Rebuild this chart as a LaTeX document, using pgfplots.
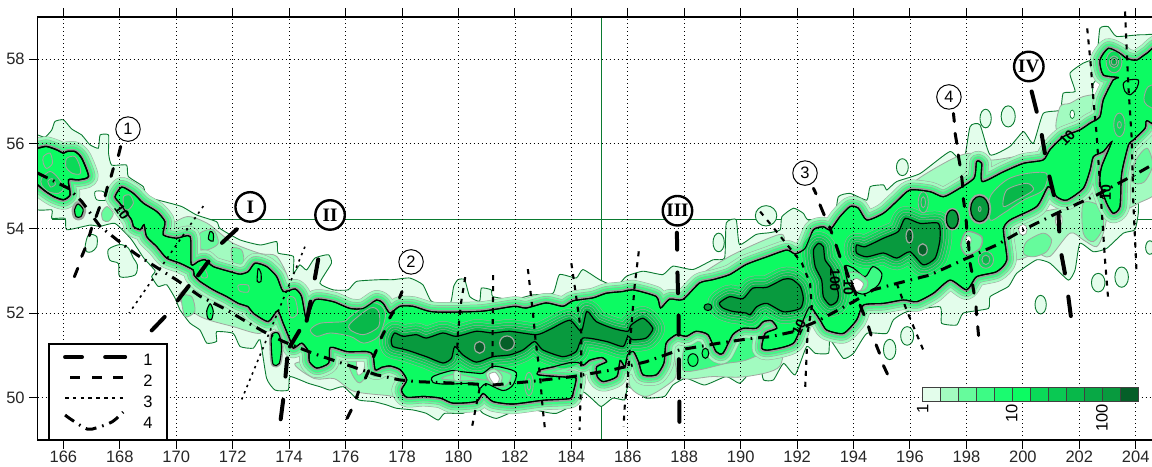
\documentclass[border=0pt]{standalone}
\usepackage{pgfplots}
\pgfplotsset{compat=1.18}
\usepackage{fontspec}
\setmainfont{Liberation Sans}
\newfontfamily\serifb{Liberation Serif}
\definecolor{ca}{HTML}{E3FDEB}
\definecolor{cb}{HTML}{A2FBC0}
\definecolor{cc}{HTML}{66FB9C}
\definecolor{cd}{HTML}{3DFB85}
\definecolor{ce}{HTML}{1AFB70}
\definecolor{cf}{HTML}{0CFB62}
\definecolor{cg}{HTML}{0ADA58}
\definecolor{ch}{HTML}{0AC953}
\definecolor{ci}{HTML}{08B84A}
\definecolor{cj}{HTML}{08A845}
\definecolor{ck}{HTML}{089A3E}
\definecolor{cl}{HTML}{055F28}
\definecolor{gl}{HTML}{A0A8A0}
\definecolor{gd}{HTML}{989E98}
\definecolor{ol}{HTML}{0A7A30}
\definecolor{cx}{HTML}{0BEC5E}
\def\tabOne{%
164.9 56.2\\165.09 56.21\\165.35 56.16\\165.59 56.33\\165.7 56.53\\166.0 56.57\\166.3 56.35\\166.65 56.21\\166.94 55.98\\167.24 55.9\\167.3 56.21\\167.6 56.21\\167.6 55.78\\167.71 55.5\\168.24 55.5\\168.3 55.23\\168.83 54.99\\168.95 54.75\\169.54 54.64\\170.19 54.52\\170.72 54.32\\171.43 54.16\\171.55 54.0\\172.26 53.73\\172.98 53.61\\173.56 53.69\\173.61 53.42\\174.15 53.34\\174.15 52.94\\174.38 53.14\\174.62 53.02\\174.91 53.3\\175.39 53.38\\175.5 53.18\\175.09 52.71\\175.56 52.55\\176.09 52.55\\176.39 52.75\\177.22 52.79\\177.68 52.79\\178.27 52.83\\178.74 52.67\\179.04 52.28\\179.69 52.2\\179.83 52.63\\179.98 52.79\\180.22 52.79\\180.4 52.39\\180.75 52.28\\180.81 52.59\\181.16 52.55\\181.22 52.39\\181.93 52.32\\182.64 52.43\\183.35 52.47\\183.58 52.91\\184.17 52.83\\184.41 53.03\\185.0 52.79\\185.59 52.63\\185.95 52.87\\186.54 52.99\\187.24 52.91\\187.6 53.11\\188.31 53.03\\189.02 53.26\\189.43 53.30\\189.49 54.13\\189.84 54.21\\189.96 53.62\\190.55 53.86\\191.02 53.9\\191.4 53.97\\191.46 54.28\\191.87 54.48\\192.22 54.36\\192.4 54.2\\193.29 54.2\\193.46 54.75\\193.88 54.83\\194.47 54.67\\194.59 54.99\\195.06 55.03\\195.18 54.91\\195.53 55.11\\196.36 55.3\\197.42 55.82\\197.89 55.54\\198.13 56.41\\198.48 56.45\\198.84 55.74\\199.54 55.94\\200.02 56.29\\200.37 56.01\\200.72 56.72\\201.32 56.8\\201.43 57.2\\201.85 57.24\\201.67 57.67\\202.14 57.91\\202.61 58.06\\202.73 58.73\\203.03 58.77\\203.32 58.54\\204.27 58.58\\204.9 58.38\\%
204.9 54.95\\204.15 54.95\\204.09 54.36\\203.97 53.97\\203.56 53.89\\202.97 53.53\\202.5 53.45\\202.02 53.65\\201.85 53.02\\201.61 52.78\\200.96 53.18\\200.49 53.26\\199.78 52.94\\199.49 52.63\\198.84 52.39\\198.78 52.11\\197.89 52.0\\197.66 51.72\\197.12 51.76\\197.06 52.15\\195.88 52.03\\195.41 51.84\\195.18 51.52\\194.47 51.52\\194.0 51.05\\193.64 50.93\\193.17 51.37\\193.11 51.05\\192.64 51.05\\192.34 51.21\\191.93 50.54\\191.52 50.81\\191.16 50.42\\190.81 50.42\\190.69 50.73\\190.34 50.6\\189.96 50.34\\189.49 50.5\\188.72 50.3\\188.07 50.46\\187.6 50.3\\187.3 50.03\\186.65 49.99\\186.42 50.1\\186.0 50.26\\185.89 49.95\\185.47 49.99\\185.06 49.79\\184.77 49.95\\184.41 50.14\\184.17 49.87\\183.47 49.63\\182.99 49.67\\182.4 49.75\\181.93 49.67\\181.34 49.51\\180.87 49.63\\180.63 49.79\\180.16 49.63\\179.51 49.63\\179.28 49.47\\178.86 49.63\\178.39 49.71\\177.8 49.75\\177.45 49.83\\176.98 49.91\\176.45 49.95\\175.92 50.26\\175.45 50.18\\175.09 50.26\\174.68 50.34\\174.03 50.5\\173.97 50.18\\173.5 50.18\\173.2 50.46\\172.97 51.37\\172.73 51.17\\172.26 51.21\\172.02 51.52\\171.43 51.56\\171.43 51.33\\171.08 51.29\\170.84 51.6\\170.49 51.76\\170.13 52.08\\169.96 52.35\\169.66 52.67\\169.36 52.63\\169.13 52.86\\169.25 53.0\\168.85 53.3\\168.4 53.75\\167.83 54.12\\167.3 54.05\\166.94 54.08\\166.12 53.97\\166.06 54.24\\165.59 54.24\\165.59 54.44\\164.9 54.52\\%
}
\def\tabTen{%
167.83 54.75\\168.07 54.98\\168.48 54.83\\168.83 54.60\\169.31 54.40\\169.60 54.16\\169.54 53.85\\170.01 53.77\\170.49 53.81\\170.53 53.15\\170.78 53.22\\171.02 53.26\\171.31 53.10\\171.90 52.98\\172.26 52.92\\172.55 52.98\\172.79 53.18\\173.20 53.10\\173.56 52.86\\173.79 52.51\\174.21 52.57\\174.44 52.39\\174.62 51.84\\174.91 52.31\\175.56 52.27\\176.15 52.11\\176.63 52.11\\177.10 52.31\\177.33 52.23\\177.57 52.0\\177.92 52.16\\178.39 52.16\\178.98 52.04\\179.57 52.02\\180.75 52.04\\181.22 52.08\\181.99 52.16\\182.40 52.12\\183.11 52.24\\183.70 52.16\\184.06 52.29\\184.77 52.36\\185.24 52.47\\185.83 52.51\\186.18 52.55\\187.01 52.39\\187.16 52.12\\187.48 52.33\\187.95 52.32\\188.54 52.71\\189.02 52.79\\189.61 52.91\\190.20 53.15\\190.93 53.33\\191.63 53.49\\191.93 53.40\\192.28 53.53\\192.58 53.97\\192.93 54.04\\193.17 53.97\\193.52 54.28\\193.88 54.52\\194.17 54.48\\194.47 54.20\\195.06 54.36\\195.53 54.64\\196.00 54.91\\196.71 54.87\\197.18 54.75\\197.66 54.91\\198.27 55.19\\198.36 55.58\\198.54 55.54\\198.56 55.11\\199.31 55.34\\200.02 55.54\\200.72 55.62\\200.96 55.86\\201.43 56.17\\202.02 56.33\\202.38 56.49\\202.73 56.64\\202.85 57.04\\203.20 57.51\\203.38 57.57\\202.85 57.63\\202.73 57.98\\203.03 58.26\\203.44 58.14\\203.68 58.02\\204.03 57.98\\204.39 58.14\\204.9 58.30\\%
204.9 56.49\\204.39 56.55\\204.33 56.37\\203.91 56.09\\203.74 55.97\\203.50 55.30\\203.44 54.52\\203.20 54.36\\202.97 54.60\\202.73 55.07\\202.79 55.46\\203.15 56.05\\202.85 55.82\\202.50 55.70\\202.38 55.38\\202.14 54.95\\201.55 54.67\\201.20 54.75\\200.90 54.99\\200.49 54.52\\199.54 54.20\\199.31 53.97\\199.43 53.26\\199.07 52.98\\198.36 52.86\\198.01 52.55\\197.42 52.78\\196.83 52.47\\196.24 52.27\\195.77 52.31\\195.06 52.23\\194.35 52.19\\194.11 51.84\\193.64 51.52\\193.05 51.60\\192.81 51.84\\192.46 52.15\\192.22 51.84\\191.87 51.29\\191.04 51.13\\190.75 51.17\\190.87 51.52\\191.28 51.64\\191.10 51.82\\190.81 51.8\\190.55 51.64\\190.08 51.64\\189.72 51.49\\189.37 51.05\\189.13 51.09\\188.84 51.49\\188.42 51.57\\188.07 51.45\\187.72 51.49\\187.36 51.29\\187.28 50.82\\187.01 50.54\\186.54 50.54\\186.38 50.85\\186.2 51.09\\185.99 51.01\\185.9 50.73\\185.73 50.88\\185.61 50.5\\185.13 50.38\\184.92 50.5\\184.9 50.73\\185.25 50.85\\185.08 50.95\\184.66 50.89\\184.43 50.77\\184.25 50.83\\183.95 50.83\\183.36 50.73\\182.91 50.66\\182.83 50.54\\183.95 50.48\\184.17 50.46\\184.07 50.14\\183.95 49.98\\183.0 49.94\\181.93 49.85\\181.22 49.91\\180.87 50.10\\180.63 49.91\\179.81 49.87\\179.36 49.99\\178.77 50.03\\178.17 50.01\\177.98 50.18\\178.17 50.42\\177.94 50.66\\177.58 50.75\\177.29 50.72\\177.05 50.66\\176.97 51.01\\176.76 51.09\\176.05 51.09\\175.46 51.19\\175.4 50.82\\174.98 50.7\\174.72 50.85\\174.69 51.09\\174.45 51.29\\174.15 51.17\\174.03 51.37\\173.79 51.76\\173.59 52.06\\173.26 51.8\\172.73 52.0\\172.55 52.15\\172.2 52.23\\171.79 52.39\\171.31 52.55\\170.84 52.75\\170.63 52.9\\170.6 53.02\\170.13 53.18\\169.66 53.30\\169.31 53.57\\168.95 53.81\\168.86 54.09\\168.72 53.97\\168.48 54.05\\168.42 54.20\\168.0 54.60\\%
}
\def\tabTenB{%
164.9 55.92\\165.09 55.9\\165.4 55.94\\165.76 55.86\\166 55.78\\166.12 55.82\\166.41 55.82\\166.65 55.66\\166.89 55.23\\166.53 55.15\\166.18 55.15\\166.24 54.8\\166 54.68\\165.65 54.76\\165.29 54.92\\164.9 55.2\\%
}
\def\tabCoreA{%
177.62 51.37\\177.74 51.53\\178.04 51.45\\178.51 51.49\\178.86 51.41\\179.45 51.53\\179.92 51.45\\180.63 51.57\\181.22 51.53\\181.81 51.57\\182.76 51.49\\183.23 51.61\\183.94 51.83\\184.35 51.57\\184.55 52.04\\184.88 51.80\\185.47 51.64\\186.0 51.57\\186.12 51.72\\186.54 51.88\\186.89 51.64\\186.65 51.41\\186.18 51.37\\186.0 51.45\\185.83 51.21\\185.24 51.33\\184.41 51.41\\184.17 51.09\\183.7 50.97\\182.99 51.13\\182.70 51.33\\182.29 51.13\\181.81 51.01\\181.22 50.97\\180.63 50.84\\180.16 51.01\\179.87 51.21\\179.75 50.93\\179.45 50.82\\178.86 50.97\\178.15 51.13\\177.68 51.21\\%
}
\def\tabCoreB{%
189.25 52.24\\189.61 52.39\\190.08 52.34\\190.43 52.59\\190.93 52.61\\191.52 52.8\\191.81 52.8\\192.11 52.63\\192.22 52.35\\192.11 52.11\\191.52 52.03\\190.93 52.23\\190.57 52.15\\190.34 51.96\\190.2 52.0\\189.72 52.04\\189.37 52.12\\%
}
\def\tabCoreC{%
192.58 53.49\\192.76 53.65\\192.93 53.57\\192.99 53.26\\193.23 53.02\\193.46 52.47\\193.4 52.27\\193.17 52.19\\192.93 52.39\\192.87 52.78\\192.64 53.1\\%
}
\def\tabCoreD{%
194.11 53.61\\194.41 53.57\\195.06 53.77\\195.59 53.93\\195.83 54.24\\196.36 54.12\\197.01 54.12\\197.06 53.73\\196.89 53.3\\196.47 53.14\\196.0 53.45\\195.53 53.3\\195.06 53.42\\194.47 53.33\\194.11 53.42\\%
}
\def\tabCoreE{197.29 54.22\\197.5 54.44\\197.71 54.22\\197.5 54.0\\}
\def\tabCoreF{198.15 54.46\\198.47 54.76\\198.79 54.46\\198.47 54.16\\}
\newcommand\pc[2]{\edef\tmpa{\noexpand\addplot[#1] table[row sep=\noexpand\\] {x y\noexpand\\ \unexpanded\expandafter{#2}};}\tmpa}
\newcommand\halo[1]{%
\pc{smooth cycle,tension=.4,line join=round,draw=gl,line width=20bp}{#1}
\pc{smooth cycle,tension=.4,line join=round,draw=cb,line width=19bp}{#1}
\pc{smooth cycle,tension=.4,line join=round,draw=gl,line width=14bp}{#1}
\pc{smooth cycle,tension=.4,line join=round,draw=cc,line width=13bp}{#1}
\pc{smooth cycle,tension=.4,line join=round,draw=gl,line width=9.5bp}{#1}
\pc{smooth cycle,tension=.4,line join=round,draw=cd,line width=8.5bp}{#1}
\pc{smooth cycle,tension=.4,line join=round,draw=gd,line width=4.5bp}{#1}
}
\newcommand\corehalo[1]{%
\pc{smooth cycle,tension=.4,line join=round,draw=gl,line width=24bp}{#1}
\pc{smooth cycle,tension=.4,line join=round,draw=cx,line width=23bp}{#1}
\pc{smooth cycle,tension=.4,line join=round,draw=gl,line width=18bp}{#1}
\pc{smooth cycle,tension=.4,line join=round,draw=cg,line width=17bp}{#1}
\pc{smooth cycle,tension=.4,line join=round,draw=gl,line width=12.5bp}{#1}
\pc{smooth cycle,tension=.4,line join=round,draw=ch,line width=11.5bp}{#1}
\pc{smooth cycle,tension=.4,line join=round,draw=gl,line width=7.5bp}{#1}
\pc{smooth cycle,tension=.4,line join=round,draw=ci,line width=6.5bp}{#1}
\pc{smooth cycle,tension=.4,draw=black,fill=ck,line width=1.2bp}{#1}
}
\newcommand\poly[2]{\addplot[smooth cycle,tension=.5,#1] coordinates {#2};}
\begin{document}
\begin{tikzpicture}
\useasboundingbox (0,0) rectangle (1152bp,467bp);
\begin{axis}[
 at={(37.7bp,27bp)},anchor=south west,scale only axis,
 width=1117.8bp,height=423bp,
 xmin=165.09,xmax=204.7,ymin=49,ymax=59,
 xtick={166,168,...,204},ytick={50,52,...,58},
 xtick pos=both,xticklabel pos=bottom,ytick pos=left,
 tick align=outside,major tick length=8.5bp,
 tick style={black,line width=1bp},
 axis line style={black,line width=1.3bp},
 axis on top,
 grid=major,
 major grid style={black,line width=.8bp,dash pattern=on 1.4bp off 2.6bp},
 tick label style={font=\fontsize{16.5bp}{17bp}\selectfont,text=black!85,/pgf/number format/assume math mode=true,/pgf/number format/1000 sep={}},
 xticklabel style={yshift=1bp},
 yticklabel style={xshift=-1bp},
]
% thin boundary lines
\addplot[draw=ol,line width=.8bp] coordinates {(185.06,49)(185.06,59)};
\addplot[draw=ol,line width=.8bp] coordinates {(165.59,54.22)(204.9,54.22)};
% level 1
\pc{smooth cycle,tension=.3,fill=ca,draw=ol,line width=.9bp}{\tabOne}
\poly{fill=ca,draw=ol,line width=.9bp}{(167.59,53.5)(168.0,53.62)(168.3,53.54)(168.48,53.3)(168.62,53.14)(168.54,52.9)(168.0,52.86)(167.95,53.17)(167.65,53.25)}
\poly{fill=ca,draw=ol,line width=.9bp}{(166.77,53.57)(166.89,53.85)(167.18,53.81)(167.18,53.57)(167.0,53.45)(166.83,53.45)}
\poly{fill=ca,draw=ol,line width=.9bp,tension=1}{(189.02,53.67)(189.22,53.89)(189.42,53.67)(189.22,53.45)}
\poly{fill=ca,draw=ol,line width=.9bp,tension=1}{(195.52,55.45)(195.73,55.65)(195.94,55.45)(195.73,55.25)}
\poly{fill=ca,draw=ol,line width=.9bp,tension=1}{(198.48,56.6)(198.68,56.82)(198.88,56.6)(198.68,56.38)}
\poly{fill=ca,draw=ol,line width=.9bp,tension=1}{(199.23,56.65)(199.48,56.9)(199.73,56.65)(199.48,56.4)}
\poly{fill=ca,draw=ol,line width=.9bp,tension=1}{(190.52,54.3)(190.9,54.54)(191.28,54.3)(190.9,54.06)}
\poly{fill=ca,draw=ol,line width=.9bp,tension=1}{(200.43,52.2)(200.63,52.42)(200.83,52.2)(200.63,51.98)}
\poly{fill=ca,draw=ol,line width=.9bp,tension=1}{(202.43,52.72)(202.67,52.94)(202.91,52.72)(202.67,52.5)}
\poly{fill=ca,draw=ol,line width=.9bp,tension=1}{(203.26,52.85)(203.5,53.09)(203.74,52.85)(203.5,52.61)}
\poly{fill=ca,draw=ol,line width=.9bp,tension=1}{(195.06,51.14)(195.28,51.38)(195.5,51.14)(195.28,50.9)}
\poly{fill=ca,draw=ol,line width=.9bp,tension=1}{(195.67,51.46)(195.9,51.68)(196.13,51.46)(195.9,51.24)}
\poly{fill=ca,draw=ol,line width=.9bp,tension=1}{(204.35,53.55)(204.5,53.71)(204.65,53.55)(204.5,53.39)}
% notches
\poly{fill=white,draw=ol,line width=.8bp}{(167.12,54.87)(167.42,54.87)(167.53,54.68)(167.18,54.68)}
\poly{fill=white,draw=ol,line width=.8bp}{(202.5,57.43)(202.85,57.63)(202.73,57.2)(202.5,57.12)}
% level 2-3 patches
\poly{fill=cb,draw=gl,line width=.8bp}{(169.66,53.97)(170.37,54.28)(171.08,54.13)(171.55,53.89)(172.02,53.65)(172.97,53.41)(173.56,53.34)(173.97,52.79)(173.5,52.8)(172.7,52.95)(171.5,53.0)(170.8,53.2)(170.2,53.6)}
\poly{fill=cc,draw=gl,line width=.8bp}{(170.84,53.89)(171.31,53.97)(171.49,53.65)(171.08,53.49)(170.78,53.57)}
\poly{fill=cc,draw=gl,line width=.8bp}{(171.96,53.53)(172.32,53.49)(172.38,53.18)(172.02,53.18)}
\poly{fill=cb,draw=gl,line width=.8bp}{(170.07,52.39)(170.84,51.92)(172.02,51.68)(172.97,51.52)(173.2,51.84)(172.02,52.31)(170.84,52.71)}
\poly{fill=cc,draw=gl,line width=.8bp}{(170.19,52.39)(170.55,52.39)(170.66,52.04)(170.31,51.92)}
\poly{fill=cc,draw=gl,line width=.8bp}{(167.36,54.38)(167.55,54.52)(167.77,54.35)(167.6,54.17)(167.4,54.2)}
\poly{fill=cb,draw=gl,line width=.8bp}{(174.2,50.8)(174.9,50.45)(175.6,50.45)(176.3,50.15)(177.5,50.05)(178.2,50.0)(177.6,50.7)(176.5,50.9)(175.2,50.9)}
\poly{fill=cc,draw=gl,line width=.8bp}{(176.05,51.05)(176.76,51.05)(176.9,50.7)(176.5,50.35)(176.2,50.6)}
\poly{fill=ca,draw=gl,line width=.8bp}{(176.4,50.88)(176.68,50.88)(176.62,50.6)(176.42,50.55)}
\poly{fill=cb,draw=gl,line width=.8bp}{(186.18,51.05)(186.54,50.5)(187.13,50.5)(187.36,51.13)(187.6,51.37)(187.72,50.58)(187.48,50.34)(186.65,50.03)(186.06,50.3)}
\poly{fill=cb,draw=gl,line width=.8bp}{(187.72,51.45)(189.02,50.97)(189.84,51.29)(191.38,51.53)(191.38,50.74)(190.2,50.5)(189.02,50.5)(187.84,50.5)}
\poly{fill=cd,draw=gl,line width=.8bp}{(188.07,51.29)(188.9,51.37)(189.6,51.29)(191.02,51.6)(191.14,51.21)(190.2,50.89)(189.49,50.81)(188.54,50.66)(187.95,50.66)}
\poly{fill=cb,draw=gl,line width=.8bp}{(188.43,52.83)(189.72,53.38)(191.38,53.86)(191.38,53.58)(189.72,52.91)(188.54,52.67)}
\poly{fill=cb,draw=gl,line width=.8bp}{(195.53,54.67)(196.24,55.15)(197.42,55.62)(198.13,55.78)(198.84,55.62)(199.78,55.7)(200.49,55.7)(200.72,55.62)(200.02,55.54)(199.31,55.34)(198.56,55.11)(197.66,54.91)(196.71,54.87)(196.0,54.91)}
\poly{fill=cb,draw=gl,line width=.8bp}{(201.2,56.33)(201.32,56.88)(201.67,56.96)(202.14,57.12)(202.61,57.12)(202.5,56.57)(202.02,56.37)}
\poly{fill=cb,draw=gl,line width=.8bp}{(199.43,54.04)(200.49,54.36)(201.55,54.52)(202.14,54.75)(202.73,54.83)(202.97,54.36)(202.85,53.89)(202.61,53.57)(202.14,53.73)(201.67,53.89)(200.96,53.34)(200.49,53.41)(199.78,53.26)(199.43,53.5)}
\poly{fill=cc,draw=gl,line width=.8bp}{(202.14,54.6)(202.73,54.52)(202.85,54.04)(202.5,53.69)(202.14,53.89)}
\poly{fill=cc,draw=gl,line width=.8bp}{(200.13,53.69)(200.72,53.89)(201.02,53.73)(200.84,53.45)(200.37,53.33)(200.02,53.41)}
\poly{fill=cb,draw=gl,line width=.8bp}{(204.9,56.4)(204.3,56.3)(203.85,55.9)(203.6,55.2)(203.6,54.5)(204.1,54.6)(204.9,55.0)}
\poly{fill=cc,draw=gl,line width=.8bp}{(204.4,55.9)(204.0,55.6)(203.9,55.1)(204.3,55.1)(204.6,55.5)}
\poly{fill=white,draw=gl,line width=.8bp,tension=1}{(199.85,53.97)(200.0,54.1)(200.15,53.97)(200.0,53.84)}
\poly{fill=white,draw=gl,line width=.8bp,tension=1}{(201.15,54.2)(201.27,54.36)(201.39,54.2)(201.27,54.04)}
\poly{fill=white,draw=ol,line width=.7bp,tension=1}{(201.67,56.7)(201.75,56.8)(201.83,56.7)(201.75,56.6)}
% halos around level 10
\halo{\tabTen}
\halo{\tabTenB}
\poly{draw=gl,fill=cb,line width=6bp,line join=round}{(166.4,54.45)(166.52,54.58)(166.7,54.45)(166.62,54.28)(166.45,54.28)}
\poly{draw=gl,fill=cb,line width=4bp,line join=round}{(173.38,51.48)(173.62,51.52)(173.73,51.21)(173.65,50.81)(173.44,50.78)(173.38,51.06)}
\poly{draw=gl,fill=cd,line width=6bp,line join=round}{(203.1,58.1)(203.3,58.2)(203.5,58.0)(203.3,57.7)(203.1,57.8)}
% level 10 fill
\pc{smooth cycle,tension=.4,fill=cf,draw=black,line width=1.1bp}{\tabTen}
\pc{smooth cycle,tension=.4,fill=cf,draw=black,line width=1.3bp}{\tabTenB}
% interior structure
\poly{fill=cg,draw=gl,line width=.9bp}{(174.75,51.6)(175.1,51.76)(175.93,51.8)(176.17,51.92)(176.87,52.24)(177.29,52.16)(177.41,51.92)(177.17,51.45)(176.64,51.29)(176.17,51.45)(175.46,51.53)(174.98,51.45)}
\poly{fill=ci,draw=gl,line width=.9bp}{(176.17,51.76)(176.87,52.12)(177.17,52.04)(177.17,51.68)(176.64,51.49)(176.17,51.6)}
\corehalo{\tabCoreA}
\corehalo{\tabCoreB}
\corehalo{\tabCoreC}
\corehalo{\tabCoreD}
% slits in the level 10 area
\poly{fill=cd,draw=black,line width=1.1bp}{(179.1,50.5)(179.75,50.64)(180.04,50.62)(180.63,50.58)(180.87,50.58)(181.22,50.74)(181.64,50.7)(182.05,50.59)(181.93,50.3)(181.58,50.17)(180.99,50.33)(180.75,50.22)(180.57,50.34)(179.57,50.32)(179.1,50.36)}
\poly{fill=cc,draw=gl,line width=.9bp}{(179.4,50.45)(179.9,50.56)(180.5,50.48)(181.0,50.42)(181.3,50.65)(181.85,50.55)(181.75,50.33)(181.5,50.25)(181.0,50.42)(180.2,50.4)}
\poly{fill=cb,draw=gl,line width=.9bp}{(180.98,50.58)(181.28,50.68)(181.55,50.5)(181.4,50.25)(181.1,50.38)}
\poly{fill=white,draw=gl,line width=.8bp}{(181.08,50.55)(181.3,50.6)(181.45,50.45)(181.32,50.3)(181.15,50.42)}
\poly{fill=cb,draw=gl,line width=.8bp}{(179.85,50.62)(180.05,50.6)(180.05,50.4)(179.85,50.42)}
\poly{fill=cd,draw=black,line width=1.1bp}{(193.7,53.11)(194.0,53.06)(194.41,52.86)(194.68,53.1)(195.0,52.94)(194.88,52.67)(194.47,52.47)(194.17,52.47)(193.82,52.7)}
\poly{fill=cc,draw=gl,line width=.9bp}{(193.85,52.95)(194.15,52.95)(194.5,52.75)(194.4,52.55)(194.0,52.55)(193.9,52.75)}
\poly{fill=white,draw=gl,line width=.8bp}{(193.94,52.74)(194.11,52.82)(194.35,52.7)(194.23,52.53)(194.02,52.55)}
\poly{fill=cc,draw=gd,line width=1.4bp}{(197.8,53.61)(198.01,53.93)(198.54,53.81)(198.48,53.53)(198.01,53.37)}
\poly{fill=white,draw=gl,line width=.8bp,tension=1}{(197.97,53.73)(198.07,53.83)(198.17,53.73)(198.07,53.63)}
\poly{fill=cg,draw=gl,line width=.9bp}{(198.84,54.75)(199.43,55.15)(200.13,55.3)(200.84,55.3)(200.72,54.91)(200.02,54.67)(199.31,54.36)(198.84,54.2)}
\poly{fill=ci,draw=gl,line width=.9bp}{(199.43,54.91)(200.13,55.07)(200.37,54.91)(199.78,54.67)(199.31,54.52)}
\pc{smooth cycle,tension=1,draw=gl,fill=ci,line width=5bp}{\tabCoreF}
\pc{smooth cycle,tension=1,draw=black,fill=ck,line width=1.2bp}{\tabCoreF}
\pc{smooth cycle,tension=1,draw=gl,line width=4bp}{\tabCoreE}
\pc{smooth cycle,tension=1,draw=black,fill=ck,line width=1.2bp}{\tabCoreE}
\poly{fill=cg,draw=gl,line width=.9bp,tension=1}{(196.29,54.62)(196.47,54.87)(196.65,54.62)(196.47,54.37)}
\poly{fill=ch,draw=gl,line width=.9bp,tension=1}{(196.39,54.62)(196.47,54.75)(196.55,54.62)(196.47,54.49)}
\poly{fill=cg,draw=gl,line width=.9bp,tension=1}{(198.42,53.26)(198.69,53.46)(198.96,53.26)(198.69,53.06)}
\poly{fill=ci,draw=gl,line width=.9bp,tension=1}{(198.55,53.26)(198.69,53.37)(198.83,53.26)(198.69,53.15)}
\poly{fill=cg,draw=gl,line width=.9bp,tension=1}{(203.22,56.45)(203.42,56.73)(203.62,56.45)(203.42,56.17)}
\poly{draw=gl,line width=.9bp,tension=1}{(203.35,56.45)(203.42,56.53)(203.49,56.45)(203.42,56.37)}
\poly{fill=cg,draw=gl,line width=.9bp}{(204.29,57.08)(204.44,57.35)(204.9,57.39)(204.9,56.8)(204.39,56.92)}
\poly{fill=cg,draw=gl,line width=.9bp,tension=1}{(202.95,57.94)(203.23,58.2)(203.51,57.94)(203.23,57.68)}
\poly{fill=ci,draw=gl,line width=.9bp,tension=1}{(203.07,57.94)(203.23,58.08)(203.39,57.94)(203.23,57.8)}
\poly{fill=cj,draw=gl,line width=.9bp,tension=1}{(203.13,57.94)(203.23,58.02)(203.33,57.94)(203.23,57.86)}
\poly{fill=cf,draw=black,line width=1.1bp}{(203.56,57.43)(203.74,57.51)(204.09,57.51)(204.03,57.31)(203.8,57.16)(203.62,57.24)}
\poly{fill=cg,draw=gl,line width=.9bp}{(166.12,55.66)(166.41,55.7)(166.59,55.46)(166.59,55.29)(166.3,55.31)(166.09,55.46)}
\poly{draw=gl,line width=.9bp}{(165.29,55.7)(165.53,55.78)(165.61,55.54)(165.41,55.42)(165.29,55.54)}
\poly{fill=cg,draw=gl,line width=.9bp}{(165.23,55.19)(165.53,55.35)(165.82,55.19)(166.0,54.95)(165.82,54.83)(165.47,54.87)(165.23,55.03)}
\poly{draw=gl,line width=.9bp}{(165.45,55.12)(165.6,55.18)(165.72,55.05)(165.55,54.98)}
\poly{fill=cg,draw=gl,line width=.9bp}{(168.13,54.75)(168.36,54.79)(168.48,54.6)(168.3,54.44)(168.15,54.48)}
\poly{draw=gl,line width=.9bp}{(170.84,53.1)(171.05,53.0)(171.1,52.85)(170.9,52.85)}
\poly{draw=gl,line width=.9bp}{(172.2,52.66)(172.55,52.66)(172.55,52.5)(172.25,52.52)}
\poly{draw=gl,line width=.9bp}{(173.95,52.35)(174.2,52.35)(174.3,52.0)(174.05,51.9)}
\poly{draw=black,line width=1.1bp}{(172.9,53.05)(173.0,52.95)(173.0,52.75)(172.87,52.75)}
\poly{draw=black,fill=cf,line width=1.1bp}{(166.4,54.45)(166.52,54.58)(166.7,54.45)(166.62,54.28)(166.45,54.28)}
\poly{draw=black,fill=cf,line width=1.1bp}{(173.38,51.48)(173.62,51.52)(173.73,51.21)(173.65,50.81)(173.44,50.78)(173.38,51.06)}
\poly{draw=black,fill=cf,line width=1.1bp}{(171.14,53.75)(171.2,53.93)(171.31,53.88)(171.3,53.7)}
\poly{draw=black,fill=cf,line width=1.1bp}{(171.08,52.05)(171.2,52.22)(171.31,52.05)(171.25,51.85)(171.12,51.88)}
\poly{draw=black,fill=cf,line width=1bp,tension=1}{(188.13,50.89)(188.31,51.04)(188.49,50.89)(188.31,50.74)}
\poly{draw=black,fill=cf,line width=1bp,tension=1}{(188.63,51.05)(188.75,51.17)(188.87,51.05)(188.75,50.93)}
\poly{draw=black,fill=ck,line width=1bp,tension=1}{(188.7,52.14)(188.84,52.22)(188.98,52.14)(188.84,52.06)}
\poly{draw=gl,fill=cl,line width=1.2bp,tension=1}{(180.57,51.19)(180.75,51.33)(180.93,51.19)(180.75,51.05)}
\poly{draw=gl,fill=cl,line width=1.2bp,tension=1}{(181.46,51.29)(181.72,51.46)(181.98,51.29)(181.72,51.12)}
\poly{draw=gl,fill=cl,line width=1.2bp,tension=1}{(195.86,53.82)(195.98,53.98)(196.1,53.82)(195.98,53.66)}
\poly{draw=gl,fill=cl,line width=1.2bp,tension=1}{(196.29,53.5)(196.45,53.64)(196.61,53.5)(196.45,53.36)}
\poly{draw=gl,fill=ci,line width=.8bp,tension=1}{(198.42,54.46)(198.47,54.52)(198.52,54.46)(198.47,54.4)}
\poly{draw=gl,line width=.9bp,tension=1}{(182.35,50.32)(182.5,50.6)(182.65,50.32)(182.5,50.05)}
\poly{draw=gl,line width=.9bp,tension=1}{(182.43,50.32)(182.5,50.45)(182.57,50.32)(182.5,50.18)}
% level 10 outline again on top
\pc{smooth cycle,tension=.4,draw=black,line width=1.1bp}{\tabTen}
\pc{smooth cycle,tension=.4,draw=black,line width=1.3bp}{\tabTenB}
\end{axis}
\begin{axis}[
 at={(37.7bp,27bp)},anchor=south west,scale only axis,
 width=1117.8bp,height=423bp,
 xmin=165.09,xmax=204.7,ymin=49,ymax=59,
 hide axis,clip=false,
 unbounded coords=jump,
]
% type 3 lines, dotted
\addplot[black,line width=1.6bp,dash pattern=on 2.4bp off 4.4bp] coordinates {(170.96,54.53)(168.33,52.0)};
\addplot[black,line width=1.6bp,dash pattern=on 2.4bp off 4.4bp] coordinates {(174.56,53.57)(172.32,49.96)};
% type 2 thin lines
\addplot[black,line width=2.1bp,dash pattern=on 5bp off 6bp] coordinates {(180.24,52.85)(180.1,52.28)(179.98,51.53)(179.95,51.01)};
\addplot[black,line width=2.1bp,dash pattern=on 5bp off 6bp] coordinates {(181.23,52.9)(181.2,50.6)};
\addplot[black,line width=2.1bp,dash pattern=on 5bp off 6bp] coordinates {(180.75,50.22)(180.46,49.24)};
\addplot[black,line width=2.1bp,dash pattern=on 5bp off 6bp] coordinates {(182.46,53.04)(182.64,52.0)(182.73,51.37)(182.88,50.58)(182.99,49.71)(183.08,49.17)};
\addplot[black,line width=2.1bp,dash pattern=on 5bp off 6bp] coordinates {(184.0,53.18)(184.12,52.63)(184.35,51.53)(184.35,50.5)(184.29,49.24)};
\addplot[black,line width=2.1bp,dash pattern=on 5bp off 6bp] coordinates {(186.39,53.46)(186.24,52.63)(186.09,51.37)(186.0,50.42)(185.89,49.79)(185.85,49.31)};
\addplot[black,line width=2.1bp,dash pattern=on 5bp off 6bp] coordinates {(190.69,54.40)(191.22,53.97)(191.75,53.53)(192.17,53.18)(192.46,52.70)(192.52,52.15)(192.37,51.52)(192.28,50.14)};
\addplot[black,line width=2.1bp,dash pattern=on 5bp off 6bp] coordinates {(195.53,52.70)(195.88,52.07)(196.47,51.13)};
\addplot[black,line width=2.1bp,dash pattern=on 5bp off 6bp] coordinates {(202.28,58.73)(202.40,57.91)(202.50,57.04)(202.61,56.25)(202.73,55.07)(202.91,53.26)(203.03,52.27)};
\addplot[black,line width=2.1bp,dash pattern=on 5bp off 6bp] coordinates {(203.62,59.13)(203.68,58.22)(203.74,57.35)(203.86,56.09)(203.91,54.67)(204.03,52.94)};
% type 2 lines
\addplot[black,line width=3bp,line cap=round] coordinates {(168.03,55.94)(167.95,55.72)(167.9,nan)(167.77,55.42)(167.69,55.23)(167.6,nan)(167.56,54.98)(167.48,54.77)(167.4,nan)(167.28,54.50)(167.16,54.28)(167.1,nan)(167.0,54.01)(166.92,53.83)(166.9,nan)(166.77,53.53)(166.65,53.34)(166.6,nan)(166.51,53.06)(166.39,52.86)};
\addplot[black,line width=3bp,line cap=round] coordinates {(178.0,52.51)(177.91,52.36)(177.8,nan)(177.70,52.04)(177.56,51.88)(177.5,nan)(177.38,51.57)(177.26,51.41)(177.2,nan)(177.09,51.12)(176.99,50.96)(176.9,nan)(176.82,50.64)(176.70,50.46)(176.6,nan)(176.46,50.14)(176.38,49.99)(176.3,nan)(176.2,49.71)(176.05,49.51)};
\addplot[black,line width=3bp,line cap=round] coordinates {(192.58,54.95)(192.67,54.82)(192.7,nan)(192.81,54.56)(192.96,54.32)(193,nan)(193.15,54.04)(193.23,53.89)(193.3,nan)(193.38,53.61)(193.52,53.33)(193.6,nan)(193.70,53.10)(193.82,52.86)(193.9,nan)(193.94,52.67)(194.09,52.43)(194.1,nan)(194.23,52.19)(194.37,51.96)(194.4,nan)(194.53,51.68)(194.62,51.48)(194.7,nan)(194.80,51.25)(194.92,51.05)(195,nan)(195.06,50.76)(195.20,50.56)};
\addplot[black,line width=3bp,line cap=round] coordinates {(197.54,56.72)(197.57,56.53)(197.6,nan)(197.6,56.25)(197.66,56.01)(197.7,nan)(197.71,55.74)(197.77,55.5)(197.8,nan)(197.83,55.23)(197.87,54.99)(197.9,nan)(197.89,54.71)(197.93,54.52)(197.95,nan)(197.99,54.2)(198.01,54.0)(198.05,nan)(198.07,53.69)(198.09,53.49)(198.1,nan)(198.13,53.18)(198.19,52.98)(198.2,nan)(198.22,52.67)(198.27,52.47)(198.3,nan)(198.34,52.15)(198.36,51.96)(198.38,nan)(198.4,51.68)(198.43,51.47)};
% type 1 lines
\addplot[black,line width=4bp,line cap=round] coordinates {(172.14,53.98)(171.62,53.66)};
\addplot[black,line width=4bp,line cap=round] coordinates {(171.14,53.22)(170.77,52.89)(170.6,nan)(170.44,52.64)(170.05,52.3)(169.9,nan)(169.59,51.91)(169.13,51.59)};
\addplot[black,line width=4bp,line cap=round] coordinates {(175.03,53.27)(174.91,52.82)(174.8,nan)(174.76,52.27)(174.62,51.82)(174.5,nan)(174.36,51.58)(174.03,51.21)(174,nan)(173.93,50.93)(173.87,50.50)(173.8,nan)(173.79,49.95)(173.70,49.49)};
\addplot[black,line width=4bp,line cap=round] coordinates {(187.74,53.90)(187.75,53.50)(187.76,nan)(187.76,52.96)(187.78,52.47)(187.79,nan)(187.8,51.94)(187.8,51.49)(187.8,nan)(187.81,50.91)(187.81,50.46)(187.82,nan)(187.83,49.91)(187.83,49.43)};
\addplot[black,line width=4bp,line cap=round] coordinates {(200.31,57.24)(200.49,56.76)(200.5,nan)(200.67,56.21)(200.78,55.78)(200.8,nan)(200.94,55.23)(201.10,54.79)(201.1,nan)(201.26,54.36)(201.29,53.93)(201.3,nan)(201.37,53.37)(201.49,52.94)(201.5,nan)(201.61,52.39)(201.70,51.93)};
% ridge line (type 4)
\addplot[black,line width=3bp,dash pattern=on 11bp off 6bp on 1.6bp off 6bp] coordinates {(165.09,55.31)(166.18,54.95)(166.65,54.64)(167.3,54.05)(168.13,53.61)(168.6,53.38)(169.54,52.98)(170.0,52.79)(170.84,52.40)(171.78,52.08)(172.55,51.77)(173.08,51.57)(173.79,51.33)(174.38,51.17)(174.97,51.02)(176.03,50.78)(177.1,50.54)(177.92,50.42)(178.51,50.38)(180.04,50.34)(181.22,50.30)(182.52,50.38)(184.06,50.50)(185.47,50.66)(186.65,50.85)(187.83,51.13)(189.25,51.29)(190.34,51.40)(191.04,51.44)(191.87,51.56)(192.81,51.84)(194.0,52.27)(194.70,52.55)(195.53,52.70)(196.71,52.90)(197.89,53.26)(199.07,53.61)(200.02,53.97)(201.2,54.36)(202.61,54.79)(204.15,55.34)(204.57,55.5)};
% contour labels
\node[font=\bfseries\fontsize{14bp}{15bp}\selectfont,rotate=-55] at (axis cs:168.08,54.39) {10};
\node[font=\bfseries\fontsize{14bp}{15bp}\selectfont,rotate=-90] at (axis cs:193.34,52.78) {100};
\node[font=\bfseries\fontsize{14bp}{15bp}\selectfont,rotate=-90] at (axis cs:193.82,52.6) {10};
\node[font=\bfseries\fontsize{14bp}{15bp}\selectfont,rotate=45] at (axis cs:201.57,56.14) {10};
\node[font=\bfseries\fontsize{14bp}{15bp}\selectfont,rotate=65] at (axis cs:192.07,51.65) {10};
\node[font=\bfseries\fontsize{14bp}{15bp}\selectfont,rotate=90] at (axis cs:202.95,54.84) {10};
% circled labels
\tikzset{cA/.style={circle,draw=black,fill=white,line width=1bp,minimum size=24.5bp,inner sep=0pt,font=\fontsize{16.5bp}{17bp}\selectfont},
 cR/.style={circle,draw=black,fill=white,line width=2.4bp,minimum size=29.5bp,inner sep=0pt,font=\serifb\bfseries\fontsize{19bp}{20bp}\selectfont}}
\node[cA] at (axis cs:168.29,56.35) {1};
\node[cA] at (axis cs:178.32,53.21) {2};
\node[cA] at (axis cs:192.28,55.31) {3};
\node[cA] at (axis cs:197.38,57.11) {4};
\node[cR] at (axis cs:172.62,54.51) {I};
\node[cR] at (axis cs:175.45,54.32) {II};
\node[cR] at (axis cs:187.76,54.42) {III};
\node[cR] at (axis cs:200.21,57.83) {IV};
% legend box
\addplot[fill=white,draw=black,line width=2bp] coordinates {(165.48,49)(165.48,51.27)(169.66,51.27)(169.66,49)} -- cycle;
\addplot[black,line width=4bp,line cap=round] coordinates {(166.06,50.96)(166.66,50.96)(167,nan)(167.48,50.96)(168.19,50.96)};
\addplot[black,line width=3bp] coordinates {(166.24,50.48)(166.59,50.48)(166.8,nan)(167.02,50.48)(167.37,50.48)(167.5,nan)(167.76,50.48)(168.12,50.48)};
\addplot[black,line width=2bp,dash pattern=on 3.6bp off 4.2bp] coordinates {(166.06,49.99)(168.15,49.99)};
\addplot[black,line width=3bp,smooth,dash pattern=on 11bp off 6bp on 1.6bp off 6bp] coordinates {(166.06,49.59)(166.31,49.47)(166.84,49.26)(167.19,49.29)(167.73,49.43)(168.12,49.66)};
\node[font=\fontsize{16.5bp}{17bp}\selectfont] at (axis cs:169.0,50.89) {1};
\node[font=\fontsize{16.5bp}{17bp}\selectfont] at (axis cs:169.0,50.4) {2};
\node[font=\fontsize{16.5bp}{17bp}\selectfont] at (axis cs:169.0,49.9) {3};
\node[font=\fontsize{16.5bp}{17bp}\selectfont] at (axis cs:169.0,49.4) {4};
% colour scale
\addplot[fill=ca,draw=black!75,line width=.9bp] coordinates {(196.45,49.92)(196.45,50.25)(197.09,50.25)(197.09,49.92)} -- cycle;
\addplot[fill=cb,draw=black!75,line width=.9bp] coordinates {(197.09,49.92)(197.09,50.25)(197.72,50.25)(197.72,49.92)} -- cycle;
\addplot[fill=cc,draw=black!75,line width=.9bp] coordinates {(197.72,49.92)(197.72,50.25)(198.36,50.25)(198.36,49.92)} -- cycle;
\addplot[fill=cd,draw=black!75,line width=.9bp] coordinates {(198.36,49.92)(198.36,50.25)(199.0,50.25)(199.0,49.92)} -- cycle;
\addplot[fill=ce,draw=black!75,line width=.9bp] coordinates {(199.0,49.92)(199.0,50.25)(199.63,50.25)(199.63,49.92)} -- cycle;
\addplot[fill=cf,draw=black!75,line width=.9bp] coordinates {(199.63,49.92)(199.63,50.25)(200.27,50.25)(200.27,49.92)} -- cycle;
\addplot[fill=cg,draw=black!75,line width=.9bp] coordinates {(200.27,49.92)(200.27,50.25)(200.9,50.25)(200.9,49.92)} -- cycle;
\addplot[fill=ch,draw=black!75,line width=.9bp] coordinates {(200.9,49.92)(200.9,50.25)(201.54,50.25)(201.54,49.92)} -- cycle;
\addplot[fill=ci,draw=black!75,line width=.9bp] coordinates {(201.54,49.92)(201.54,50.25)(202.18,50.25)(202.18,49.92)} -- cycle;
\addplot[fill=cj,draw=black!75,line width=.9bp] coordinates {(202.18,49.92)(202.18,50.25)(202.81,50.25)(202.81,49.92)} -- cycle;
\addplot[fill=ck,draw=black!75,line width=.9bp] coordinates {(202.81,49.92)(202.81,50.25)(203.45,50.25)(203.45,49.92)} -- cycle;
\addplot[fill=cl,draw=black!75,line width=.9bp] coordinates {(203.45,49.92)(203.45,50.25)(204.09,50.25)(204.09,49.92)} -- cycle;
\node[font=\fontsize{16.5bp}{17bp}\selectfont,rotate=90,anchor=east,inner sep=0pt] at (axis cs:196.45,49.85) {1};
\node[font=\fontsize{16.5bp}{17bp}\selectfont,rotate=90,anchor=east,inner sep=0pt] at (axis cs:199.6,49.85) {10};
\node[font=\fontsize{16.5bp}{17bp}\selectfont,rotate=90,anchor=east,inner sep=0pt] at (axis cs:202.8,49.85) {100};
\end{axis}
\end{tikzpicture}
\end{document}
